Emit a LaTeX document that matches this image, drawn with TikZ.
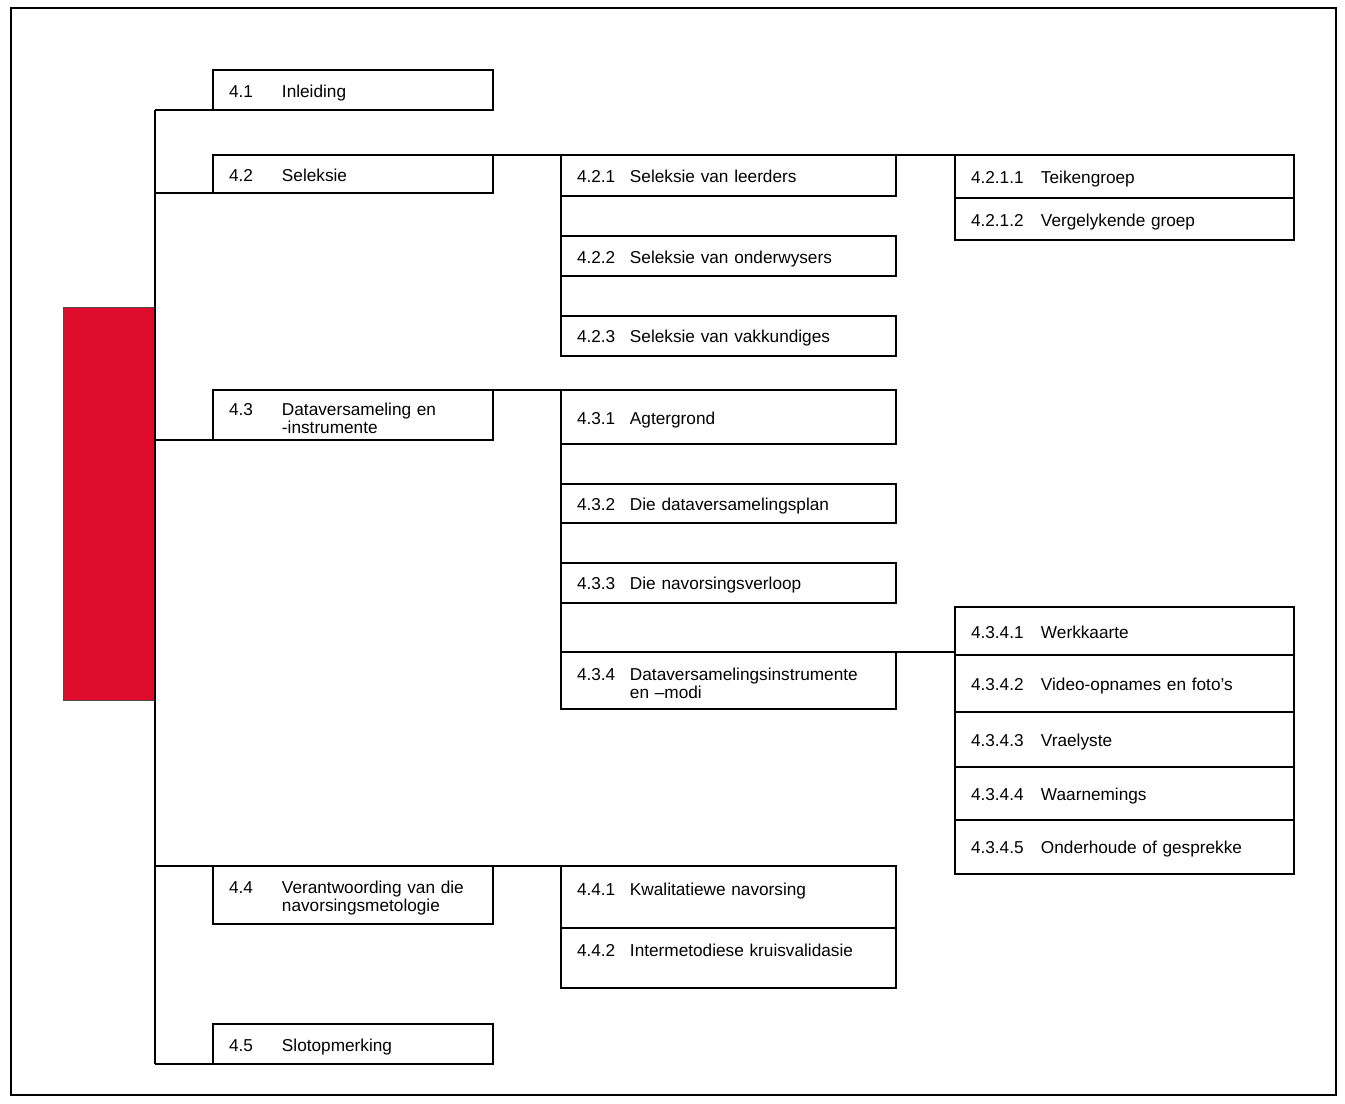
\documentclass[tikz,border=0pt]{standalone}
\usepackage{fontspec}
\setmainfont{Liberation Sans}
\usetikzlibrary{positioning}
\definecolor{barred}{RGB}{222,12,42}
\newcommand{\nr}[2][1.06cm]{\rule[-2.5pt]{0pt}{13pt}\makebox[#1][l]{#2}}

\begin{document}
\begin{tikzpicture}[x=0.02cm, y=-0.02cm, line width=0.9pt, node distance=0.8cm,
                    box/.style={draw, rectangle, line width=0.9pt, anchor=north west, outer sep=0pt,
                                inner xsep=0.32cm, inner ysep=0pt, align=left,
                                font=\fontsize{9.8}{10.2}\selectfont},
                    lvlone/.style={box, text width=4.96cm},
                    lvlthree/.style={box, text width=6.06cm},
                    lvlfour/.style={box, text width=6.14cm},
                    hoog/.style={text height=7.5pt, text depth=9.5pt}]

    \useasboundingbox (0,0) rectangle (1345,1104);
    \draw[line width=0.7pt] (11,8) rectangle (1336,1095);
    \filldraw[fill=barred, draw=black!70, line width=0.4pt] (63,307) rectangle (155,700);

    % hoofafdelings
    \node[lvlone, minimum height=0.8cm] (s41) at (213,70) {\nr{4.1}Inleiding};
    \node[lvlone, minimum height=0.76cm] (s42) at (213,155) {\nr{4.2}Seleksie};
    \node[lvlone, minimum height=1cm] (s43) at (213,390) {\nr{4.3}Dataversameling en\\\hspace*{1.06cm}-instrumente};
    \node[lvlone, minimum height=1.16cm] (s44) at (213,866) {\nr{4.4}Verantwoording van die\\\hspace*{1.06cm}navorsingsmetologie};
    \node[lvlone, minimum height=0.8cm] (s45) at (213,1024) {\nr{4.5}Slotopmerking};

    % 4.2
    \node[lvlthree, minimum height=0.82cm] (s421) at (561,155) {\nr{4.2.1}Seleksie van leerders};
    \node[lvlthree, minimum height=0.8cm, below=of s421] (s422) {\nr{4.2.2}Seleksie van onderwysers};
    \node[lvlthree, minimum height=0.8cm, below=of s422] (s423) {\nr{4.2.3}Seleksie van vakkundiges};
    \node[lvlfour, minimum height=0.86cm] (s4211) at (955,155) {\nr[1.4cm]{4.2.1.1}Teikengroep};
    \node[lvlfour, minimum height=0.84cm, below=0pt of s4211] (s4212) {\nr[1.4cm]{4.2.1.2}Vergelykende groep};

    % 4.3
    \node[lvlthree, minimum height=1.08cm] (s431) at (561,390) {\nr{4.3.1}Agtergrond};
    \node[lvlthree, minimum height=0.78cm, below=of s431] (s432) {\nr{4.3.2}Die dataversamelingsplan};
    \node[lvlthree, minimum height=0.8cm, below=of s432] (s433) {\nr{4.3.3}Die navorsingsverloop};
    \node[lvlthree, minimum height=1.14cm, below=0.98cm of s433] (s434) {\nr{4.3.4}Dataversamelingsinstrumente\\\hspace*{1.06cm}en --modi};
    \node[lvlfour, minimum height=0.96cm] (s4341) at (955,607) {\nr[1.4cm]{4.3.4.1}Werkkaarte};
    \node[lvlfour, minimum height=1.14cm, below=0pt of s4341] (s4342) {\nr[1.4cm]{4.3.4.2}Video-opnames en foto's};
    \node[lvlfour, minimum height=1.1cm, below=0pt of s4342] (s4343) {\nr[1.4cm]{4.3.4.3}Vraelyste};
    \node[lvlfour, minimum height=1.06cm, below=0pt of s4343] (s4344) {\nr[1.4cm]{4.3.4.4}Waarnemings};
    \node[lvlfour, minimum height=1.08cm, below=0pt of s4344] (s4345) {\nr[1.4cm]{4.3.4.5}Onderhoude of gesprekke};

    % 4.4
    \node[lvlthree, hoog, minimum height=1.24cm] (s441) at (561,866) {\nr{4.4.1}Kwalitatiewe navorsing};
    \node[lvlthree, hoog, minimum height=1.2cm, below=0pt of s441] (s442) {\nr{4.4.2}Intermetodiese kruisvalidasie};

    % verbindings
    \coordinate (spine) at (155,0);
    \draw (s41.south west -| spine) -- (s45.south west -| spine);
    \foreach \s in {s41,s42,s43,s45}
        \draw (\s.south west -| spine) -- (\s.south west);
    \draw (s44.north west -| spine) -- (s441.north west);
    \draw (s42.north east) -- (s4211.north west);
    \draw (s43.north east) -- (s431.north west);
    \draw (s421.north west) -- (s423.south west);
    \draw (s431.north west) -- (s434.south west);
    \draw (s434.north east) -- (s434.north east -| s4341.west);
\end{tikzpicture}
\end{document}
